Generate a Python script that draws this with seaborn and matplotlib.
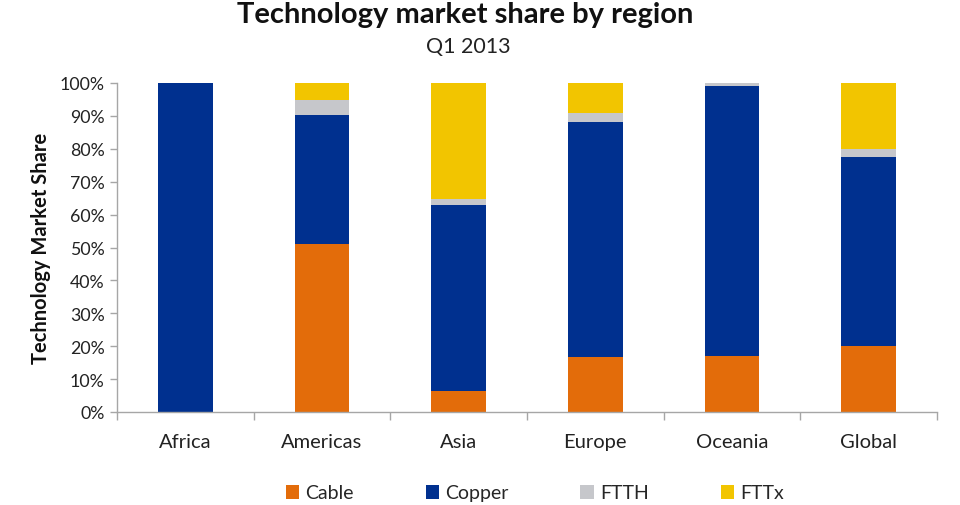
import numpy as np
import pandas as pd
import matplotlib
matplotlib.use('Agg')
import matplotlib.pyplot as plt
import seaborn as sns
from matplotlib.patches import Patch
from matplotlib.ticker import PercentFormatter, FixedLocator

# Data (percent of connections)
regions = ['Africa', 'Americas', 'Asia', 'Europe', 'Oceania', 'Global']
cable = [0.0, 51.0, 6.5, 16.6, 16.9, 20.0]
copper = [100.0, 39.3, 56.4, 71.4, 82.1, 57.4]
ftth = [0.0, 4.5, 1.8, 2.8, 1.0, 2.5]
fttx = [0.0, 5.2, 35.3, 9.2, 0.0, 20.1]

series = ['Cable', 'Copper', 'FTTH', 'FTTx']
colors = {'Cable': '#E36C0A', 'Copper': '#00308F', 'FTTH': '#C6C7CB', 'FTTx': '#F2C500'}

df = pd.DataFrame({'region': regions, 'Cable': cable, 'Copper': copper,
                   'FTTH': ftth, 'FTTx': fttx})
# cumulative tops for stacking
cum = df[series].cumsum(axis=1)
cum['region'] = df['region']

sns.set_theme(style='white')
plt.rcParams['font.family'] = ['Lato', 'DejaVu Sans']

fig = plt.figure(figsize=(9.6, 5.06), dpi=100)
ax = fig.add_axes([117 / 960, 1 - 413 / 506, 820 / 960, 329 / 506])

# draw from the top of the stack down so each smaller layer overlays
for s in reversed(series):
    sns.barplot(data=cum, x='region', y=s, color=colors[s], width=0.4,
                saturation=1, ax=ax, edgecolor='none', linewidth=0)

ax.set_ylim(0, 100)
ax.set_xlim(-0.5, len(regions) - 0.5)
ax.yaxis.set_major_locator(FixedLocator(np.arange(0, 101, 10)))
ax.yaxis.set_major_formatter(PercentFormatter(decimals=0))
ax.xaxis.set_minor_locator(FixedLocator(np.arange(-0.5, len(regions), 1)))
ax.tick_params(axis='x', which='major', length=0, pad=15, labelsize=14.5, colors='#222222')
ax.tick_params(axis='x', which='minor', length=6, width=1, color='#A6A6A6', direction='out', bottom=True)
ax.tick_params(axis='y', which='major', length=5, width=1, color='#A6A6A6', direction='out',
               left=True, labelsize=12.8, colors='#222222', pad=4)

for side in ['top', 'right']:
    ax.spines[side].set_visible(False)
for side in ['left', 'bottom']:
    ax.spines[side].set_color('#A6A6A6')
    ax.spines[side].set_linewidth(1)

ax.set_xlabel('')
ax.set_ylabel('Technology Market Share', fontsize=14.5, fontweight='bold', labelpad=6, color='#111111')

fig.text(0.485, 1 - 15 / 506, 'Technology market share by region', ha='center', va='center',
         fontsize=21, fontweight='bold', color='#111111')
fig.text(0.488, 1 - 47 / 506, 'Q1 2013', ha='center', va='center', fontsize=15.5, color='#222222')

handles = [Patch(facecolor=colors[s], edgecolor='none', label=s) for s in series]
fig.legend(handles=handles, loc='center', bbox_to_anchor=(0.557, 1 - 494 / 506), ncol=4,
           frameon=False, fontsize=14, handlelength=0.7, handleheight=0.7,
           handletextpad=0.3, columnspacing=3.7)

fig.savefig('out.png', dpi=100)
